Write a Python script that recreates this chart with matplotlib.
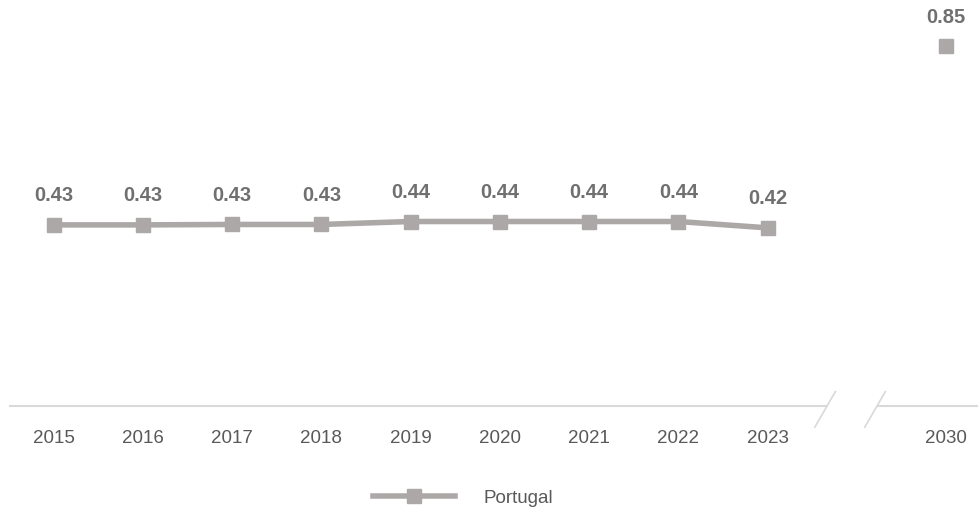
import matplotlib.pyplot as plt

plt.rcParams['font.family'] = ['Liberation Sans', 'DejaVu Sans']

years = ['2015', '2016', '2017', '2018', '2019', '2020', '2021', '2022', '2023']
values = [0.428, 0.428, 0.429, 0.429, 0.436, 0.436, 0.436, 0.436, 0.421]
target_year = '2030'
target_value = 0.85

line_col = '#ADA8A8'
label_col = '#707070'
tick_col = '#595959'
axis_col = '#D9D9D9'

fig = plt.figure(figsize=(9.79, 5.15), dpi=100)
ax = fig.add_axes([10 / 979, 109 / 515, 969 / 979, 402 / 515])

xs = list(range(len(years)))
x_target = len(years) + 1

ax.plot(xs, values, color=line_col, lw=4, marker='s', ms=10,
        mec=line_col, mfc=line_col, label='Portugal', solid_joinstyle='miter')
ax.plot([x_target], [target_value], ls='none', marker='s', ms=10,
        mec=line_col, mfc=line_col)

# data labels
for x, v in zip(xs + [x_target], values + [target_value]):
    ax.annotate(f'{v:.2f}', (x, v), xytext=(0, 14), textcoords='offset points',
                ha='center', va='bottom', fontsize=14.5, fontweight='bold',
                color=label_col)

ax.set_xlim(-0.49, 10.37)
ax.set_ylim(0, 0.95)
ax.set_xticks(xs + [x_target])
ax.set_xticklabels(years + [target_year])
ax.tick_params(axis='x', length=0, pad=17, labelsize=13.5, labelcolor=tick_col)
ax.set_yticks([])
for s in ['top', 'right', 'left']:
    ax.spines[s].set_visible(False)

# broken x axis
ax.spines['bottom'].set_color(axis_col)
ax.spines['bottom'].set_linewidth(1.5)
ax.spines['bottom'].set_bounds(-0.49, 8.67)
ax.plot([9.24, 10.37], [0, 0], color=axis_col, lw=1.5, clip_on=False)
ax.plot([8.53, 8.76], [-0.05, 0.034], color=axis_col, lw=1.2, clip_on=False)
ax.plot([9.09, 9.32], [-0.05, 0.034], color=axis_col, lw=1.2, clip_on=False)

handles, labels = ax.get_legend_handles_labels()
fig.legend(handles, labels, loc='center', bbox_to_anchor=(0.473, 0.033),
           frameon=False, fontsize=13.5, handlelength=4.4, handletextpad=1.5,
           labelcolor=tick_col)

fig.savefig('out.png', dpi=100)
